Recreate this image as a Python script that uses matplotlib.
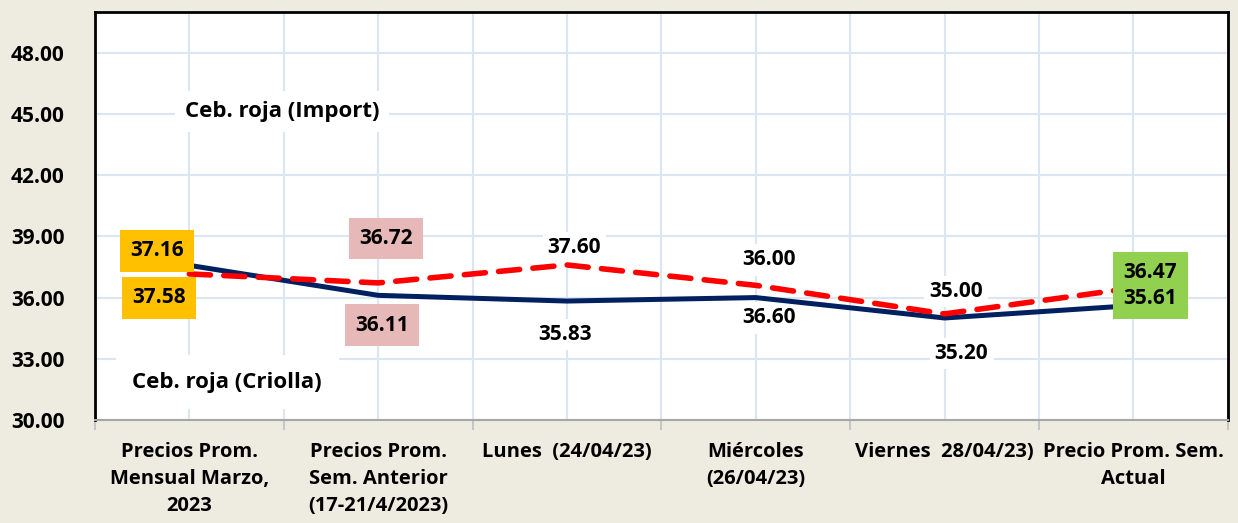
import matplotlib.pyplot as plt
from matplotlib.ticker import MultipleLocator, FixedLocator

# Data
categorias = ['Precios Prom.\nMensual Marzo,\n2023',
              'Precios Prom.\nSem. Anterior\n(17-21/4/2023)',
              'Lunes  (24/04/23)',
              'Miércoles\n(26/04/23)',
              'Viernes  28/04/23)',
              'Precio Prom. Sem.\nActual']
criolla = [37.58, 36.11, 35.83, 36.00, 35.00, 35.61]   # Ceb. roja (Criolla)
importada = [37.16, 36.72, 37.60, 36.60, 35.20, 36.47]  # Ceb. roja (Import)

# Etiquetas tal como aparecen en el grafico
etq_import = ['37.16', '36.72', '37.60', '36.00', '35.00', '36.47']
etq_criolla = ['37.58', '36.11', '35.83', '36.60', '35.20', '35.61']

# Posiciones de las etiquetas (x, y)
pos_import = [(-0.17, 38.3), (1.04, 38.9), (2.04, 38.45), (3.07, 37.85), (4.06, 36.3)]
pos_criolla = [(-0.16, 36.0), (1.02, 34.65), (1.99, 34.2), (3.07, 35.0), (4.09, 33.25)]
cajas = ['#FFC000', '#E6B8B7', 'white', 'white', 'white']

plt.rcParams['font.family'] = ['Open Sans', 'DejaVu Sans']

fig = plt.figure(figsize=(12.38, 5.23), dpi=100, facecolor='#EEEBE0')
ax = fig.add_axes([0.0767, 0.197, 0.915, 0.78])
ax.set_facecolor('white')

x = range(len(categorias))
ax.plot(x, criolla, color='#002060', lw=3.6, solid_capstyle='round', zorder=3)
ax.plot(x, importada, color='#FF0000', lw=4, dashes=(3.8, 2.4),
        dash_capstyle='round', zorder=4)

ax.set_xlim(-0.5, 5.5)
ax.set_ylim(30, 50)
ax.yaxis.set_major_locator(MultipleLocator(3))
ax.yaxis.set_major_formatter(lambda v, p: f'{v:.2f}' if v < 49 else '')
ax.set_xticks(list(x))
ax.set_xticklabels(categorias, fontsize=14.5, fontweight='bold', linespacing=1.45)
ax.xaxis.set_minor_locator(FixedLocator([i + 0.5 for i in range(-1, 6)]))
ax.tick_params(axis='x', which='major', length=0, pad=16)
ax.tick_params(axis='x', which='minor', length=7, color='#BFBFBF', width=1.2)
ax.tick_params(axis='y', length=0, pad=22, labelsize=15)
for t in ax.get_yticklabels():
    t.set_fontweight('bold')

ax.grid(True, which='both', color='#DCE6F2', lw=1.5)
ax.set_axisbelow(True)
for s in ['left', 'top', 'right']:
    ax.spines[s].set_color('black')
    ax.spines[s].set_linewidth(2)
ax.spines['bottom'].set_color('#A6A6A6')
ax.spines['bottom'].set_linewidth(1.5)

fs = 15
for i in range(len(pos_import)):
    c = cajas[i]
    pad = 0.5 if c != 'white' else 0.25
    z = 5 if c != 'white' else 2.5
    for etq, pos in ((etq_import[i], pos_import[i]), (etq_criolla[i], pos_criolla[i])):
        ax.text(pos[0], pos[1], etq, ha='center', va='center', fontsize=fs,
                fontweight='bold', zorder=z,
                bbox=dict(boxstyle=f'square,pad={pad}', fc=c, ec='none'))

# caja verde comun para la ultima categoria
ax.text(5.09, 36.6, etq_import[5] + '\n' + etq_criolla[5], ha='center', va='center',
        fontsize=fs, fontweight='bold', linespacing=1.3, zorder=5,
        bbox=dict(boxstyle='square,pad=0.5', fc='#92D050', ec='none'))

ax.text(0.49, 45.1, 'Ceb. roja (Import)', ha='center', va='center', fontsize=16,
        fontweight='bold', bbox=dict(boxstyle='square,pad=0.45', fc='white', ec='none'), zorder=5)
ax.text(0.2, 31.85, 'Ceb. roja (Criolla)', ha='center', va='center', fontsize=16,
        fontweight='bold', bbox=dict(boxstyle='square,pad=0.75', fc='white', ec='none'), zorder=5)

fig.savefig('out.png', dpi=100, facecolor=fig.get_facecolor())
